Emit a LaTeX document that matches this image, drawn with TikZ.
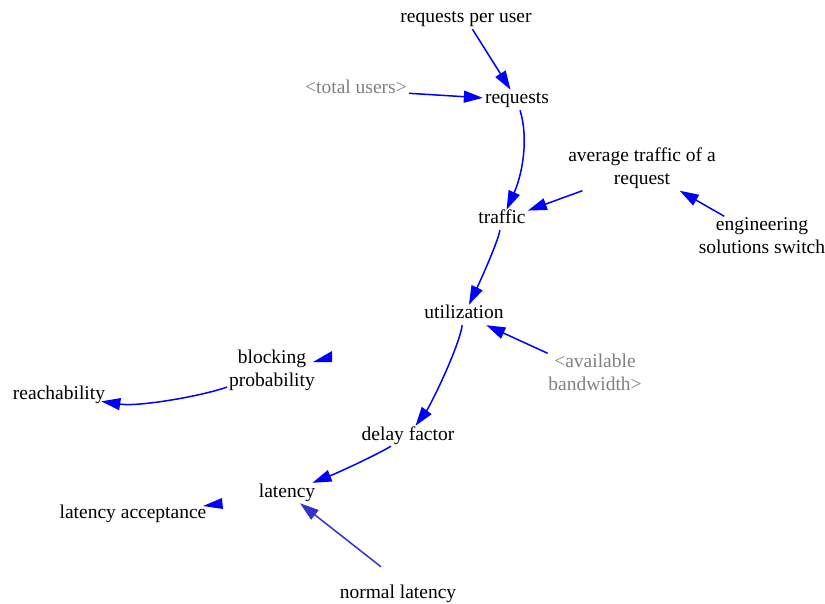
\documentclass[tikz,border=0pt]{standalone}
\usepackage{fontspec}
\setmainfont{Liberation Serif}
\usetikzlibrary{arrows.meta}
\definecolor{linkblue}{HTML}{0000FF}
\definecolor{linkdark}{HTML}{3333CC}
\definecolor{shadowgray}{HTML}{808080}
\begin{document}
\begin{tikzpicture}[x=1pt,y=-1pt,
  var/.style={font=\fontsize{19.5}{23}\selectfont, text height=12pt,
    text depth=4pt, inner sep=2pt, align=center},
  twoline/.style={text height=35pt},
  shadowvar/.style={var, text=shadowgray},
  link/.style={draw=linkblue, line width=1.5pt,
    -{Triangle[length=19pt,width=12pt]}},
  loosehead/.style={fill=linkblue},
]
\useasboundingbox (0,0) rectangle (825,604);

% variables
\node[var] (rpu)  at (466,19)    {requests per user};
\node[shadowvar] (tu) at (356,90) {<total users>};
\node[var] (req)  at (517,100)   {requests};
\node[var, twoline] (atr)  at (642,169) {average traffic of a\\request};
\node[var] (traf) at (502,220)   {traffic};
\node[var, twoline] (eng)  at (762,238) {engineering\\solutions switch};
\node[var] (util) at (464,315)   {utilization};
\node[var, twoline] (blk)  at (272,371) {blocking\\probability};
\node[shadowvar, twoline] (bw) at (595,375) {<available\\bandwidth>};
\node[var] (reach) at (59,395)   {reachability};
\node[var] (dly)  at (408,436)   {delay factor};
\node[var] (lat)  at (287,493)   {latency};
\node[var] (lacc) at (133,514)   {latency acceptance};
\node[var] (nlat) at (398,594)   {normal latency};

% causal links
\draw[link] (rpu) -- (req);
\draw[link] (tu) -- (req);
\draw[link] (req) .. controls +(12,40) and +(20,-45) .. (traf);
\draw[link] (atr) -- (traf);
\draw[link] (eng) -- (atr);
\draw[link] (traf) .. controls +(-5,25) and +(12,-25) .. (util);
\draw[link] (bw) -- (util);
\draw[link] (util) .. controls +(-6,35) and +(22,-30) .. (dly);
\draw[link] (dly) .. controls +(-30,18) and +(55,-22) .. (lat);
\draw[link, draw=linkdark] ([shift={(-17,-17)}]nlat.north) -- (lat);
\draw[link, shorten >=-6pt] (blk) .. controls +(-70,25) and +(80,12) .. (reach);

% arrowheads of links whose lines are not shown
\fill[loosehead] (313,362) -- (332,351) -- (332,362) -- cycle;
\fill[loosehead] (203,506) -- (222,498) -- (223,509) -- cycle;
\end{tikzpicture}
\end{document}
